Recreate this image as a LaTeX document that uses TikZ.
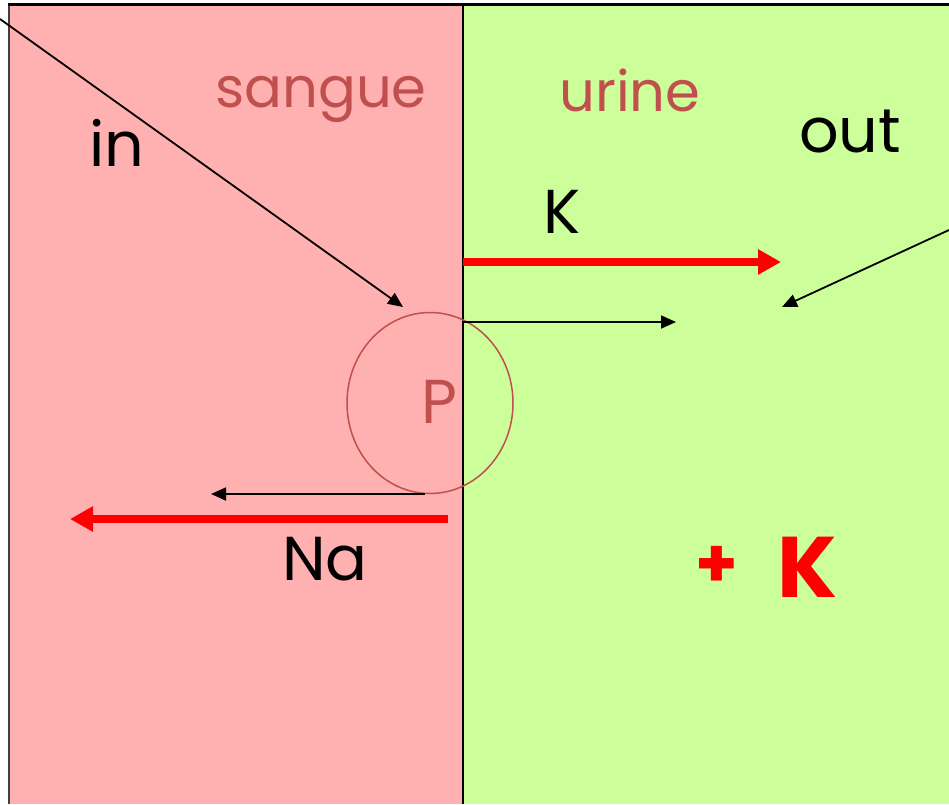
\documentclass[tikz,border=0pt]{standalone}
\usepackage{fontspec}
\setmainfont{Poppins}
\usetikzlibrary{arrows.meta,shapes.geometric}
\definecolor{pinkbg}{RGB}{255,176,176}
\definecolor{greenbg}{RGB}{204,255,153}
\definecolor{brownred}{RGB}{192,80,77}
\begin{document}
\begin{tikzpicture}[x=1pt,y=-1pt,
  lbl/.style={inner sep=0pt, anchor=base, font=\fontsize{62}{62}\selectfont},
  title/.style={lbl, text=brownred, font=\fontsize{56}{56}\selectfont},
  thinarrow/.style={line width=1.8pt, -{Triangle[length=15pt,width=13pt]}},
  thickarrow/.style={draw=red, line width=8pt, -{Triangle[length=23pt,width=24pt]}}]
\useasboundingbox (0,0) rectangle (949,804);
% compartments
\fill[pinkbg] (9,5) rectangle (463,804);
\fill[greenbg] (463,5) rectangle (949,804);
\draw[line width=2pt, black!75] (9,5) -- (9,804);
\draw[line width=3pt] (8,4.5) -- (949,4.5);
\draw[line width=2pt] (463,5) -- (463,804);
% pump
\node[draw=brownred, line width=1.5pt, ellipse, inner sep=0pt,
      minimum width=166pt, minimum height=181pt] (pump) at (430,403) {};
\node[lbl, text=brownred] (P) at (439,423) {P};
% labels
\node[title] (sangue) at (321,107) {sangue};
\node[title] (urine) at (630,111) {urine};
\node[lbl] (in) at (117,166) {in};
\node[lbl] (out) at (850,152) {out};
\node[lbl] (K) at (562,233) {K};
\node[lbl] (Na) at (325,580) {Na};
\node[inner sep=0pt, text=red, font=\fontsize{68}{68}\selectfont\bfseries] (plus) at (717,567) {+};
\node[lbl, text=red, font=\fontsize{86}{86}\selectfont\bfseries] (Kplus) at (807,597) {K};
% arrow end points
\coordinate (inS) at (0,19);
\coordinate (inE) at (403,307);
\coordinate (outS) at (949,230);
\coordinate (outE) at (782,307);
\coordinate (kS) at (463,262);
\coordinate (kE) at (781,262);
\coordinate (rS) at (463,322);
\coordinate (rE) at (676,322);
\coordinate (lS) at (425,494);
\coordinate (lE) at (211,494);
\coordinate (naS) at (448,519);
\coordinate (naE) at (70,519);
% arrows
\draw[thinarrow] (inS) -- (inE);
\draw[thinarrow] (outS) -- (outE);
\draw[thinarrow] (rS) -- (rE);
\draw[thinarrow] (lS) -- (lE);
\draw[thickarrow] (kS) -- (kE);
\draw[thickarrow] (naS) -- (naE);
\end{tikzpicture}
\end{document}
